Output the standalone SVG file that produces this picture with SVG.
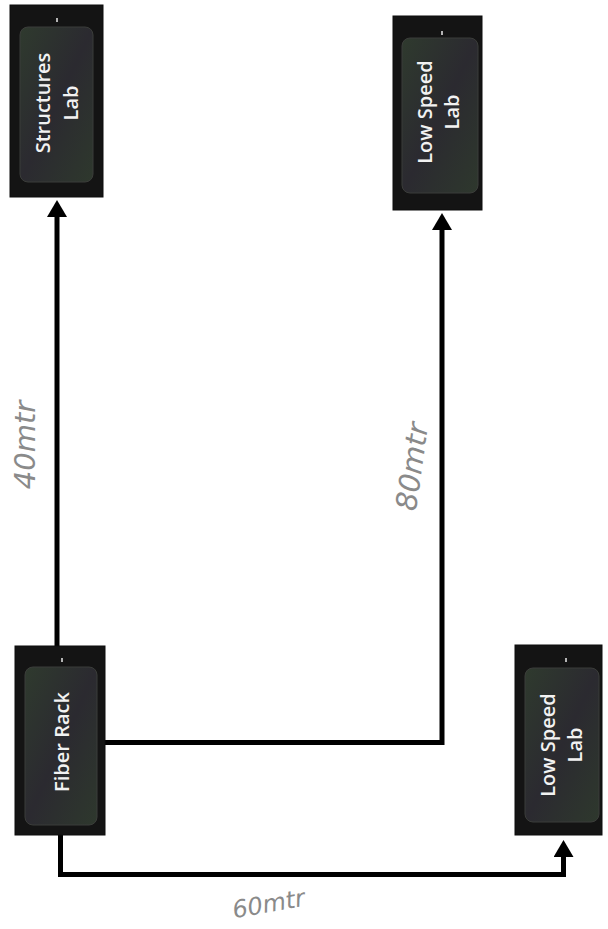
<svg xmlns="http://www.w3.org/2000/svg" width="608" height="929" viewBox="0 0 608 929">
<style>
.outer{fill:#141414;stroke:#0c0c0c;stroke-width:1}
.inner{fill:url(#g);stroke:#3b3d3a;stroke-width:1}
.lbl{font-family:"Open Sans","Liberation Sans",sans-serif;font-weight:600;font-size:20px;fill:#f2f2f2;text-anchor:middle}
.dash{stroke:#e8e8e8;stroke-width:1.5}
.conn{fill:none;stroke:#000;stroke-width:5;stroke-linejoin:miter}
.hand{font-family:"DejaVu Sans","Liberation Sans",sans-serif;font-style:italic;font-size:29px;fill:#8a8a8a;text-anchor:middle}
</style>
<defs>
<linearGradient id="g" x1="0" y1="0" x2="1" y2="1">
<stop offset="0" stop-color="#2f3a2e"/>
<stop offset="0.5" stop-color="#2b2a30"/>
<stop offset="1" stop-color="#2e382d"/>
</linearGradient>
<marker id="arr" viewBox="0 0 17 20" refX="0" refY="10" markerWidth="17" markerHeight="20" markerUnits="userSpaceOnUse" orient="auto">
<path d="M0,0 L17,10 L0,20 Z" fill="#000"/>
</marker>
</defs>
<g id="connectors">
<path class="conn" d="M57,646 L57,217" marker-end="url(#arr)"/>
<path class="conn" d="M105,742.5 L442,742.5 L442,230" marker-end="url(#arr)"/>
<path class="conn" d="M60.5,835 L60.5,874.5 L563.5,874.5 L563.5,857" marker-end="url(#arr)"/>
</g>
<g id="structures-lab">
<rect class="outer" x="10" y="5" width="93" height="192"/>
<rect class="inner" x="20" y="27" width="73" height="155" rx="8"/>
<line class="dash" x1="57" y1="18" x2="57" y2="22"/>
<g transform="translate(57,103) rotate(-90)"><text class="lbl" x="0" y="-7">Structures</text><text class="lbl" x="0" y="21">Lab</text></g>
</g>
<g id="low-speed-lab-top">
<rect class="outer" x="393" y="16" width="89" height="194"/>
<rect class="inner" x="402" y="38" width="76" height="155" rx="8"/>
<line class="dash" x1="442" y1="31" x2="442" y2="35"/>
<g transform="translate(438,112) rotate(-90)"><text class="lbl" x="0" y="-6">Low Speed</text><text class="lbl" x="0" y="21">Lab</text></g>
</g>
<g id="fiber-rack">
<rect class="outer" x="15" y="646" width="90" height="189"/>
<rect class="inner" x="25" y="667" width="72" height="158" rx="8"/>
<line class="dash" x1="62" y1="658" x2="62" y2="662"/>
<g transform="translate(62,742) rotate(-90)"><text class="lbl" x="0" y="7">Fiber Rack</text></g>
</g>
<g id="low-speed-lab-bottom">
<rect class="outer" x="515" y="645" width="87" height="190"/>
<rect class="inner" x="525" y="668" width="74" height="154" rx="8"/>
<line class="dash" x1="566" y1="658" x2="566" y2="662"/>
<g transform="translate(561,745) rotate(-90)"><text class="lbl" x="0" y="-6">Low Speed</text><text class="lbl" x="0" y="21">Lab</text></g>
</g>
<g id="labels">
<text class="hand" transform="translate(35,445) rotate(-90)">40mtr</text>
<text class="hand" transform="translate(422,468) rotate(-82)">80mtr</text>
<text class="hand" transform="translate(270,912) rotate(-10)" style="font-size:24px">60mtr</text>
</g>
</svg>
